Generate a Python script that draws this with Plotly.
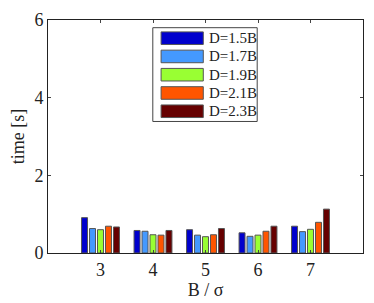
import plotly.graph_objects as go

categories = [3, 4, 5, 6, 7]
series_names = ["D=1.5B", "D=1.7B", "D=1.9B", "D=2.1B", "D=2.3B"]
d15 = [0.91, 0.58, 0.60, 0.52, 0.69]
d17 = [0.63, 0.56, 0.46, 0.43, 0.55]
d19 = [0.60, 0.47, 0.42, 0.46, 0.61]
d21 = [0.69, 0.46, 0.47, 0.56, 0.79]
d23 = [0.67, 0.58, 0.63, 0.69, 1.13]
series_values = [d15, d17, d19, d21, d23]
colors = ["#0000CD", "#4499FF", "#99FF33", "#FF5500", "#660000"]
y_ticks = [0, 2, 4, 6]

FONT = "Liberation Serif, serif"

fig = go.Figure()
for name, vals, c in zip(series_names, series_values, colors):
    fig.add_trace(go.Bar(x=categories, y=vals, name=name, showlegend=False,
                         marker=dict(color=c, line=dict(color="#555555", width=1))))

# custom legend (box, large swatches, labels) in paper coordinates
shapes = [dict(type="rect", xref="paper", yref="paper", x0=0.3327, x1=0.6641,
               y0=0.5645, y1=0.967, line=dict(color="#444444", width=1),
               fillcolor="white", layer="above")]
annotations = []
for i, (name, c) in enumerate(zip(series_names, colors)):
    top = 0.949 - i * 0.0784
    shapes.append(dict(type="rect", xref="paper", yref="paper", x0=0.359, x1=0.493,
                       y0=top - 0.054, y1=top, fillcolor=c,
                       line=dict(color="#555555", width=1), layer="above"))
    annotations.append(dict(xref="paper", yref="paper", x=0.505, y=top - 0.027,
                            xanchor="left", yanchor="middle", text=name, showarrow=False,
                            font=dict(family=FONT, size=15, color="#222222")))

fig.update_layout(
    width=366, height=295,
    margin=dict(l=40, r=11, t=12, b=50),
    paper_bgcolor="white", plot_bgcolor="white",
    barmode="group", bargap=0.24, bargroupgap=0.25,
    font=dict(family=FONT, size=18, color="#222222"),
    shapes=shapes, annotations=annotations,
    xaxis=dict(range=[2, 8], tickmode="array", tickvals=categories, automargin=False,
               ticks="inside", ticklen=3, mirror="ticks", showline=True,
               linecolor="#222222", linewidth=1, showgrid=False, zeroline=False,
               title=dict(text="B / σ", standoff=2, font=dict(size=18))),
    yaxis=dict(range=[0, 6], tickmode="array", tickvals=y_ticks, automargin=False,
               ticks="inside", ticklen=3, mirror="ticks", showline=True,
               linecolor="#222222", linewidth=1, showgrid=False, zeroline=False,
               title=dict(text="time [s]", standoff=8, font=dict(size=18))),
)

fig.write_html("out.html")
